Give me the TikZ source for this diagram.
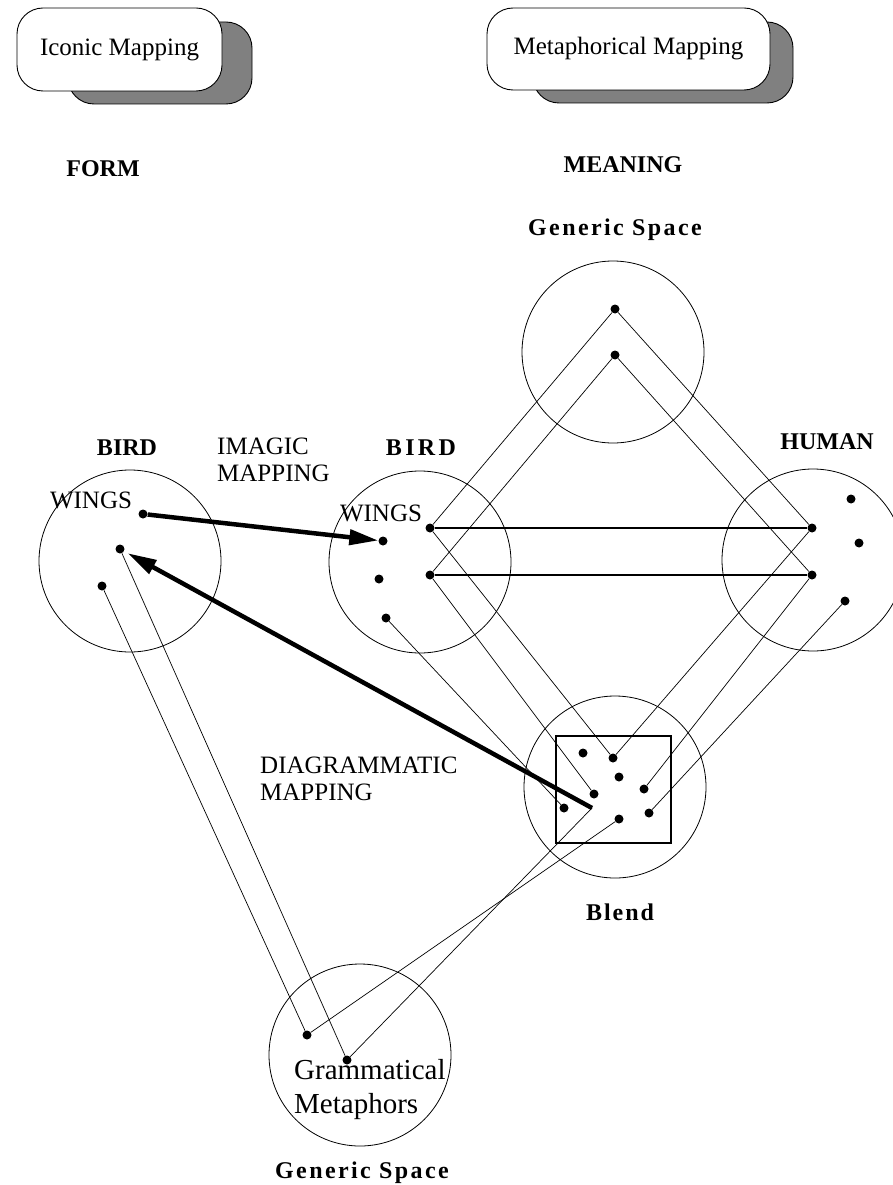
\documentclass[tikz,border=0pt]{standalone}
\usepackage{fontspec}
\setmainfont{Liberation Serif}
\usetikzlibrary{arrows.meta,positioning}

\tikzset{
  space/.style={circle,draw,line width=0.8pt,minimum size=182pt,inner sep=0pt},
  dot/.style={circle,fill,inner sep=0pt,minimum size=9pt},
  mapbox/.style={rectangle,draw,fill=white,rounded corners=26pt,line width=0.9pt,inner sep=0pt,font=\fontsize{25}{27}\selectfont},
  shadowbox/.style={draw,fill=black!50,rounded corners=26pt,line width=0.9pt},
  heading/.style={font=\bfseries\fontsize{24}{26}\selectfont},
  plain/.style={font=\fontsize{25}{27}\selectfont,align=left,inner sep=0pt},
  link/.style={line width=0.7pt},
  bar/.style={line width=1.3pt},
  bigarrow/.style={line width=4.5pt,-{Triangle[length=29pt,width=15pt]}}
}

\begin{document}
\begin{tikzpicture}[x=1pt,y=-1pt]
		\useasboundingbox (0,0) rectangle (893,1185);

		\draw[shadowbox] (68,22) rectangle (252,104);
		\node[mapbox,minimum width=205pt,minimum height=83pt] (iconic) at (119.5,49.5) {\raisebox{5pt}{Iconic Mapping}};
		\draw[shadowbox] (533,22) rectangle (793,103);
		\node[mapbox,minimum width=283pt,minimum height=82pt] (metaphorical) at (628.5,49) {\raisebox{5pt}{Metaphorical Mapping}};

		\node[heading] (form) at (103,169) {FORM};
		\node[heading] (meaning) at (623,165) {MEANING};
		\node[heading] (generictoplabel) at (615,230) {\addfontfeature{LetterSpace=10}Generic Space};

		\node[space] (birdform) at (130,561) {};
		\node[space] (generictop) at (613,352) {};
		\node[space] (birdmeaning) at (420,562) {};
		\node[space] (human) at (813,560) {};
		\node[space] (blend) at (615,787) {};
		\node[space] (genericbottom) at (360,1055) {};
		\node[draw,bar,minimum width=115pt,minimum height=107pt] (blendframe) at (613.5,789.5) {};

		\node[heading] (birdformlabel) at (127,448) {BIRD};
		\node[plain,anchor=west] (imagic) at (217,460) {IMAGIC\\MAPPING};
		\node[heading] (birdmeaninglabel) at (421,448) {\addfontfeature{LetterSpace=14}BIRD};
		\node[heading] (humanlabel) at (827,442) {HUMAN};
		\node[plain] (wingsform) at (91,500) {WINGS};
		\node[plain] (wingsmeaning) at (381,513) {WINGS};
		\node[plain,anchor=west] (diagrammatic) at (260,779) {DIAGRAMMATIC\\MAPPING};
		\node[heading] (blendlabel) at (620,912) {\addfontfeature{LetterSpace=8}Blend};
		\node[plain,anchor=west,font=\fontsize{29}{34}\selectfont] (grammatical) at (294,1090) {Grammatical\\Metaphors};
		\node[heading] (genericbottomlabel) at (362,1173) {\addfontfeature{LetterSpace=10}Generic Space};

		\node[dot] (fwings) at (143,514) {};
		\node[dot] (ftwo) at (120,549) {};
		\node[dot] (fthree) at (102,586) {};
		\node[dot] (gone) at (615,309) {};
		\node[dot] (gtwo) at (615,355) {};
		\node[dot] (bwings) at (383,541) {};
		\node[dot] (bone) at (430,528) {};
		\node[dot] (btwo) at (430,575) {};
		\node[dot] (bthree) at (379,579) {};
		\node[dot] (bfour) at (386,618) {};
		\node[dot] (hone) at (812,528) {};
		\node[dot] (htwo) at (812,575) {};
		\node[dot] (hthree) at (851,499) {};
		\node[dot] (hfour) at (859,543) {};
		\node[dot] (hfive) at (845,601) {};
		\node[dot] (xone) at (583,753) {};
		\node[dot] (xtwo) at (613,758) {};
		\node[dot] (xthree) at (619,777) {};
		\node[dot] (xfour) at (644,789) {};
		\node[dot] (xfive) at (594,794) {};
		\node[dot] (xsix) at (564,808) {};
		\node[dot] (xseven) at (619,819) {};
		\node[dot] (xeight) at (649,813) {};
		\coordinate (xtail) at (592,808);
		\node[dot] (qone) at (307,1035) {};
		\node[dot] (qtwo) at (347,1060) {};

		\draw[link] (gone) -- (bone);
		\draw[link] (gtwo) -- (btwo);
		\draw[link] (gone) -- (hone);
		\draw[link] (gtwo) -- (htwo);
		\draw[bar] (bone) -- (hone);
		\draw[bar] (btwo) -- (htwo);
		\draw[link] (bone) -- (xtwo);
		\draw[link] (btwo) -- (xfive);
		\draw[link] (bfour) -- (xsix);
		\draw[link] (hone) -- (xtwo);
		\draw[link] (htwo) -- (xfour);
		\draw[link] (hfive) -- (xeight);
		\draw[link] (qone) -- (xseven);
		\draw[link] (qtwo) -- (xtail);
		\draw[link] (fthree) -- (qone);
		\draw[link] (ftwo) -- (qtwo);

		\draw[bigarrow] (fwings) -- (bwings);
		\draw[bigarrow,shorten >=4pt] (xtail) -- (ftwo);
\end{tikzpicture}
\end{document}
